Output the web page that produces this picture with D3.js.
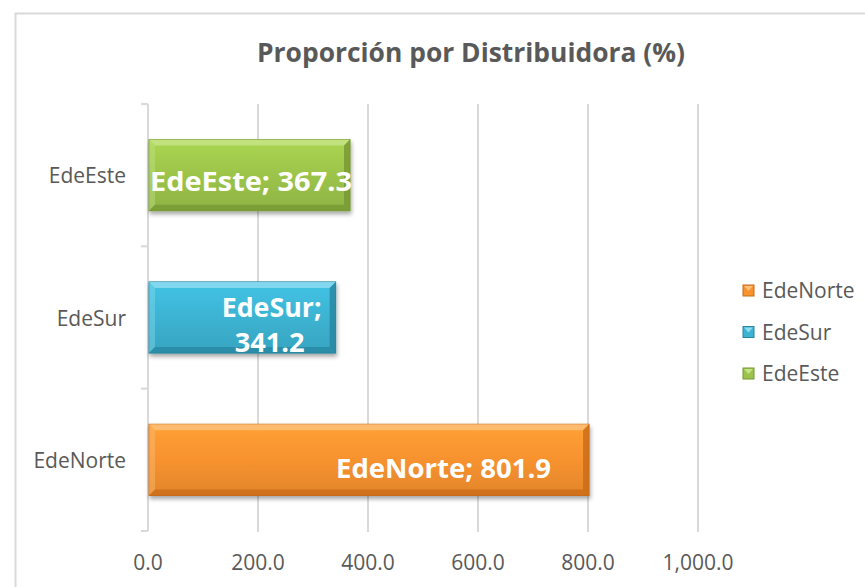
<!DOCTYPE html>
<html>
<head>
<meta charset="utf-8">
<script src="https://cdn.jsdelivr.net/npm/d3@7"></script>
<style>
  body { margin: 0; background: #fff; }
  text { font-family: "Open Sans", "Noto Sans", sans-serif; }
</style>
</head>
<body>
<main></main>
<script>
// data
var categories = ["EdeNorte", "EdeSur", "EdeEste"];
var values = [801.9, 341.2, 367.3];
var colors = ["#f7922f", "#3cb3d2", "#9cc44a"];
var lightColors = ["#fcc07a", "#8ddcf0", "#c6e486"];
var darkColors = ["#c96a17", "#27859f", "#759733"];
var xTicks = [0, 200, 400, 600, 800, 1000];

// plot area (don't use "top": clashes with window.top)
var w = 865,
    h = 587,
    plotLeft = 148,
    plotRight = 698,
    plotTop = 104,
    plotBottom = 531,
    bevel = 6;

var svg = d3.select("main")
            .append("svg")
            .attr("width", w)
            .attr("height", h);

var defs = svg.append("defs");

// chart border
svg.append("rect")
   .attr("x", 15.5).attr("y", 13.5)
   .attr("width", w).attr("height", h)
   .attr("fill", "none")
   .attr("stroke", "#d9d9d9")
   .attr("stroke-width", 2);

svg.append("text")
   .attr("x", 471).attr("y", 62)
   .attr("text-anchor", "middle")
   .attr("font-size", "27px")
   .attr("font-weight", "bold")
   .attr("fill", "#595959")
   .attr("textLength", 428)
   .attr("lengthAdjust", "spacingAndGlyphs")
   .text("Proporción por Distribuidora (%)");

var x = d3.scaleLinear().domain([0, 1000]).range([plotLeft, plotRight]);
var y = d3.scaleBand()
          .domain(categories.slice().reverse())
          .range([plotTop, plotBottom])
          .paddingInner(0.5).paddingOuter(0.25);

// gridlines
svg.selectAll("line.grid")
   .data(xTicks.slice(1))
   .enter()
   .append("line")
   .attr("x1", function (d) { return x(d); })
   .attr("x2", function (d) { return x(d); })
   .attr("y1", plotTop).attr("y2", plotBottom + 1)
   .attr("stroke", "#d9d9d9")
   .attr("stroke-width", 2);

// category axis line + ticks
var yAxis = svg.append("g");
yAxis.append("line")
     .attr("x1", plotLeft).attr("x2", plotLeft)
     .attr("y1", plotTop).attr("y2", plotBottom)
     .attr("stroke", "#d9d9d9").attr("stroke-width", 2);
var bounds = [plotTop].concat(categories.slice().reverse().map(function (c) {
  return y(c) + y.bandwidth() + y.step() * y.paddingInner() / 2;
}));
bounds[bounds.length - 1] = plotBottom;
yAxis.selectAll("line.tick")
     .data(bounds)
     .enter()
     .append("line")
     .attr("x1", plotLeft - 7).attr("x2", plotLeft)
     .attr("y1", function (d) { return d; })
     .attr("y2", function (d) { return d; })
     .attr("stroke", "#d9d9d9").attr("stroke-width", 2);

yAxis.selectAll("text")
     .data(categories)
     .enter()
     .append("text")
     .attr("x", 126)
     .attr("y", function (d) { return y(d) + y.bandwidth() / 2 + 8; })
     .attr("text-anchor", "end")
     .attr("font-size", "21px")
     .attr("fill", "#595959")
     .text(function (d) { return d; });

// x tick labels
svg.selectAll("text.xt")
   .data(xTicks)
   .enter()
   .append("text")
   .attr("x", function (d) { return x(d); })
   .attr("y", 570)
   .attr("text-anchor", "middle")
   .attr("font-size", "21px")
   .attr("fill", "#595959")
   .text(function (d) { return d3.format(",.1f")(d); });

// gradients
categories.forEach(function (c, i) {
  var g = defs.append("linearGradient")
              .attr("id", "g" + i)
              .attr("x1", 0).attr("x2", 0).attr("y1", 0).attr("y2", 1);
  g.append("stop").attr("offset", "0").attr("stop-color", d3.color(colors[i]).brighter(0.25));
  g.append("stop").attr("offset", "0.5").attr("stop-color", colors[i]);
  g.append("stop").attr("offset", "1").attr("stop-color", d3.color(colors[i]).darker(0.25));
});

var shadow = defs.append("filter").attr("id", "shadow")
                 .attr("x", "-5%").attr("y", "-10%")
                 .attr("width", "115%").attr("height", "130%");
shadow.append("feDropShadow")
      .attr("dx", 1).attr("dy", 3)
      .attr("stdDeviation", 2)
      .attr("flood-color", "#000")
      .attr("flood-opacity", 0.35);

var bars = svg.selectAll("g.bar")
   .data(categories)
   .enter()
   .append("g");

bars.append("rect")
    .attr("x", x(0) + 1)
    .attr("y", function (d) { return y(d); })
    .attr("width", function (d, i) { return x(values[i]) - x(0) - 1; })
    .attr("height", y.bandwidth())
    .attr("fill", function (d, i) { return "url(#g" + i + ")"; })
    .attr("stroke", function (d, i) { return darkColors[i]; })
    .attr("stroke-width", 1)
    .attr("filter", "url(#shadow)");

// bevel faces: top / left lighter, bottom / right darker
function facePath(d, i, side) {
  var x0 = x(0) + 1, x1 = x(values[i]), y0 = y(d), y1 = y(d) + y.bandwidth(), b = bevel;
  var pts;
  if (side === "top") pts = [[x0, y0], [x1, y0], [x1 - b, y0 + b], [x0 + b, y0 + b]];
  if (side === "bottom") pts = [[x0, y1], [x1, y1], [x1 - b, y1 - b], [x0 + b, y1 - b]];
  if (side === "left") pts = [[x0, y0], [x0 + b, y0 + b], [x0 + b, y1 - b], [x0, y1]];
  if (side === "right") pts = [[x1, y0], [x1 - b, y0 + b], [x1 - b, y1 - b], [x1, y1]];
  return d3.line()(pts) + "Z";
}
[["top", lightColors, 0.85], ["left", lightColors, 0.4],
 ["bottom", darkColors, 0.75], ["right", darkColors, 0.8]].forEach(function (f) {
  bars.append("path")
      .attr("d", function (d, i) { return facePath(d, i, f[0]); })
      .attr("fill", function (d, i) { return f[1][i]; })
      .attr("opacity", f[2]);
});

// clip labels to bar height (EdeSur's second line is cut by the bar edge)
bars.append("clipPath")
    .attr("id", function (d, i) { return "clip" + i; })
    .append("rect")
    .attr("x", 0).attr("width", w)
    .attr("y", function (d) { return y(d); })
    .attr("height", y.bandwidth() + 1);

// data labels
var fmt = d3.format(".1f");
bars.each(function (d, i) {
  var g = d3.select(this);
  var cy = y(d) + y.bandwidth() / 2;
  var t = g.append("text")
           .attr("clip-path", "url(#clip" + i + ")")
           .attr("font-size", "27px")
           .attr("font-weight", "bold")
           .attr("fill", "#fff");
  if (d === "EdeSur") {
    t.attr("text-anchor", "middle");
    t.append("tspan").attr("x", x(values[i]) - 64).attr("y", cy - 1)
     .attr("textLength", 100).attr("lengthAdjust", "spacingAndGlyphs").text(d + ";");
    t.append("tspan").attr("x", x(values[i]) - 66).attr("y", cy + 34)
     .attr("textLength", 70).attr("lengthAdjust", "spacingAndGlyphs").text(fmt(values[i]));
  } else {
    var off = d === "EdeNorte" ? -38 : 2;
    t.attr("text-anchor", "end")
     .attr("x", x(values[i]) + off)
     .attr("y", cy + (d === "EdeNorte" ? 18 : 16))
     .attr("textLength", d === "EdeNorte" ? 215 : 202)
     .attr("lengthAdjust", "spacingAndGlyphs")
     .text(d + "; " + fmt(values[i]));
  }
});

// legend
var leg = svg.append("g");
var legItems = leg.selectAll("g")
   .data(categories)
   .enter()
   .append("g")
   .attr("transform", function (d, i) { return "translate(743," + (285 + i * 41.5) + ")"; });
legItems.append("rect")
   .attr("width", 11).attr("height", 11)
   .attr("fill", function (d, i) { return colors[i]; })
   .attr("stroke", function (d, i) { return darkColors[i]; });
legItems.append("path")
   .attr("d", "M1,1L10,1L5.5,6Z")
   .attr("fill", function (d, i) { return lightColors[i]; });
legItems.append("text")
   .attr("x", 19)
   .attr("y", 13)
   .attr("font-size", "21px")
   .attr("fill", "#595959")
   .text(function (d) { return d; });
</script>
</body>
</html>
